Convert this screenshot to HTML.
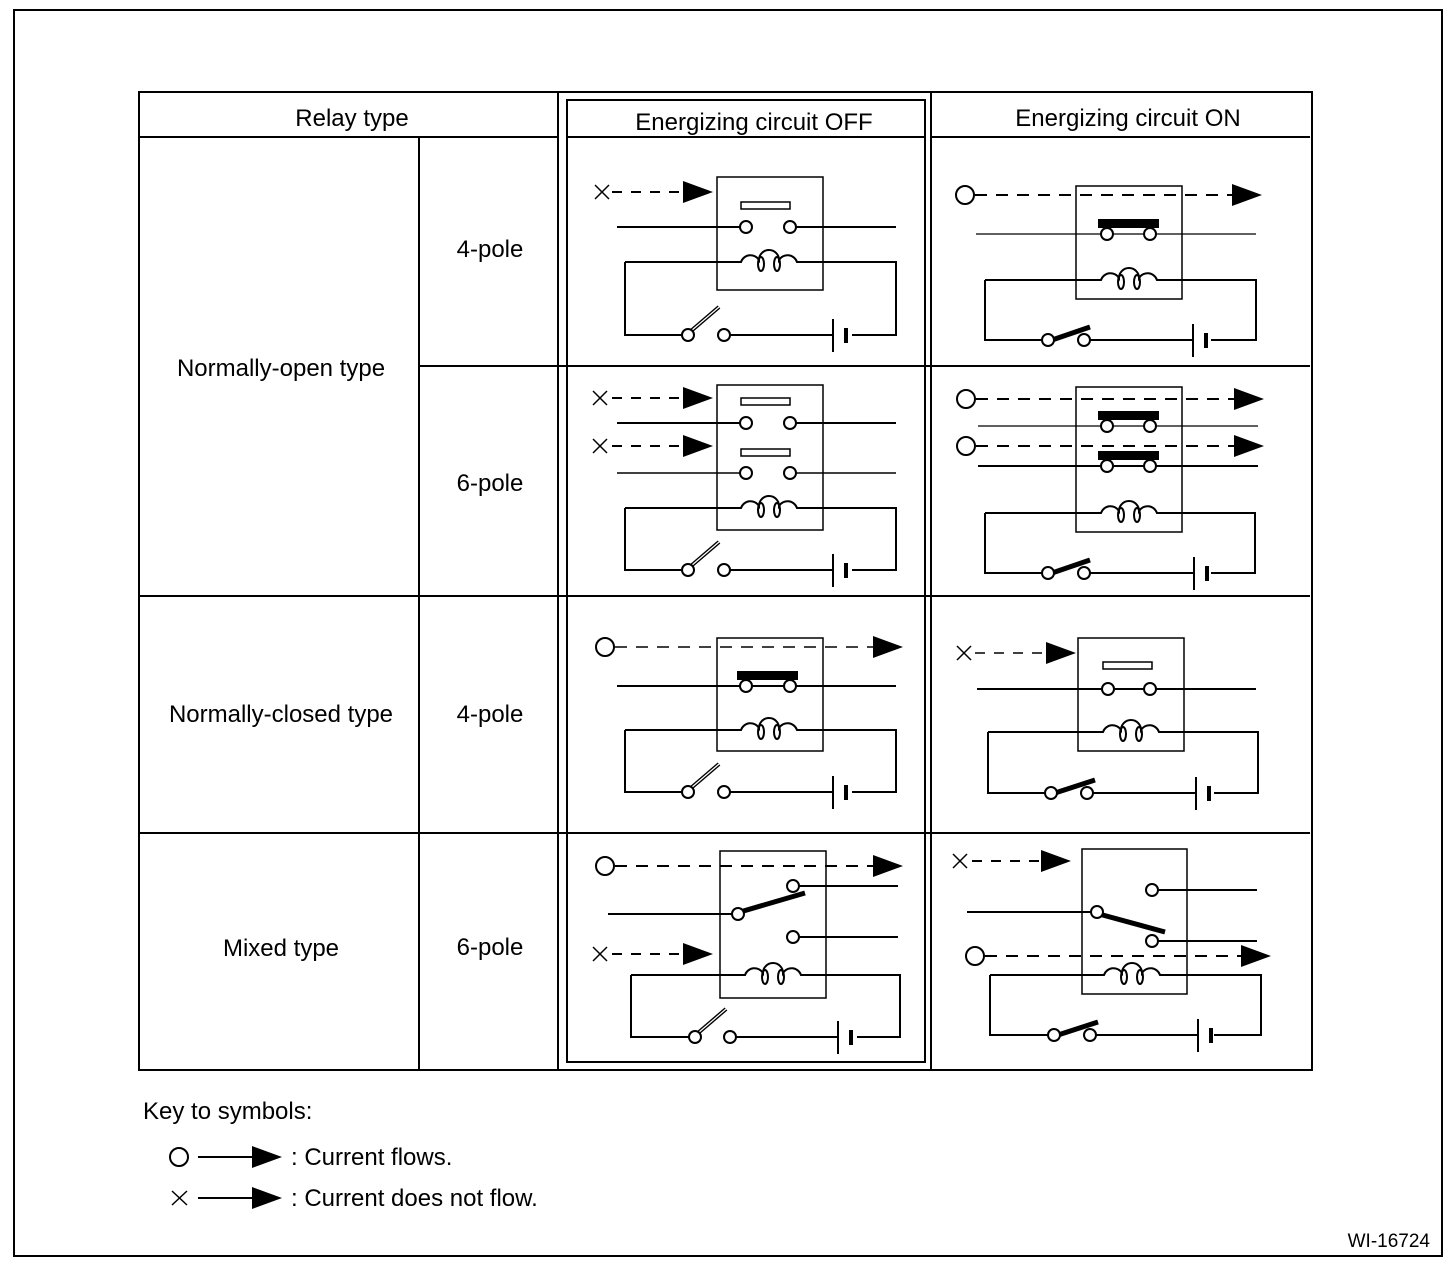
<!DOCTYPE html>
<html><head><style>body{margin:0;background:#fff}svg{display:block}text{font-family:"Liberation Sans",sans-serif;fill:#000}</style></head><body>
<svg width="1456" height="1264" viewBox="0 0 1456 1264" xmlns="http://www.w3.org/2000/svg">
<defs>
<symbol id="ah" overflow="visible"><polygon points="-30,-11 0,0 -30,11" fill="#000"/></symbol>
</defs>
<rect x="14" y="10" width="1428" height="1246" fill="none" stroke="#000" stroke-width="2"/>
<g stroke="#000" stroke-width="2" fill="none">
<rect x="139" y="92" width="1173" height="978"/>
<line x1="139" y1="137" x2="558" y2="137"/>
<line x1="930" y1="137" x2="1310" y2="137"/>
<line x1="558" y1="92" x2="558" y2="1070"/>
<line x1="931" y1="92" x2="931" y2="1070"/>
<line x1="419" y1="137" x2="419" y2="1070"/>
<rect x="567" y="100" width="358" height="962"/>
<line x1="567" y1="137" x2="925" y2="137"/>
<line x1="419" y1="366" x2="1310" y2="366"/>
<line x1="139" y1="596" x2="1310" y2="596"/>
<line x1="139" y1="833" x2="1310" y2="833"/>
</g>
<g font-size="24" text-anchor="middle">
<text x="352" y="126">Relay type</text>
<text x="754" y="130">Energizing circuit OFF</text>
<text x="1128" y="126">Energizing circuit ON</text>
<text x="281" y="376">Normally-open type</text>
<text x="490" y="257">4-pole</text>
<text x="490" y="491">6-pole</text>
<text x="281" y="722">Normally-closed type</text>
<text x="490" y="722">4-pole</text>
<text x="281" y="956">Mixed type</text>
<text x="490" y="955">6-pole</text>
</g>
<text x="143" y="1119" font-size="24">Key to symbols:</text>
<text x="291" y="1165" font-size="24">: Current flows.</text>
<text x="291" y="1206" font-size="24">: Current does not flow.</text>
<text x="1430" y="1247" font-size="19" text-anchor="end">WI-16724</text>

<g stroke="#000" stroke-width="2" fill="#fff">
<circle cx="179" cy="1157" r="9"/>
<line x1="198" y1="1157" x2="260" y2="1157"/>
<line x1="172" y1="1191" x2="187" y2="1205" stroke-width="1.5"/><line x1="187" y1="1191" x2="172" y2="1205" stroke-width="1.5"/>
<line x1="198" y1="1198" x2="260" y2="1198"/>
</g>
<use href="#ah" x="282" y="1157"/><use href="#ah" x="282" y="1198"/>

<g stroke="#000" stroke-width="2" fill="none">
<rect x="717" y="177" width="106" height="113" stroke-width="1.5"/>
<line x1="595" y1="185" x2="609" y2="199" stroke-width="1.5"/><line x1="609" y1="185" x2="595" y2="199" stroke-width="1.5"/>
<line x1="612" y1="192" x2="684" y2="192" stroke-dasharray="10 9"/>
<rect x="741" y="202" width="49" height="7" stroke-width="1.5"/>
<line x1="617" y1="227" x2="740" y2="227"/><line x1="796" y1="227" x2="896" y2="227"/>
<circle cx="746" cy="227" r="6" fill="#fff"/><circle cx="790" cy="227" r="6" fill="#fff"/>
<path d="M625 262 H741 A10 10 0 0 1 759 260 A10 10 0 0 1 779 260 A10 10 0 0 1 797 262 H896 V335 H852"/>
<ellipse cx="761" cy="264" rx="3" ry="7"/><ellipse cx="777" cy="264" rx="3" ry="7"/>
<path d="M625 262 V335 H682"/><line x1="730" y1="335" x2="833" y2="335"/>
<line x1="833" y1="319" x2="833" y2="352"/><line x1="846" y1="328" x2="846" y2="343" stroke-width="4"/>
<line x1="691" y1="331" x2="719" y2="307" stroke-width="4"/><line x1="691" y1="331" x2="719" y2="307" stroke="#fff" stroke-width="1.2"/>
<circle cx="688" cy="335" r="6" fill="#fff"/><circle cx="724" cy="335" r="6" fill="#fff"/>
</g>
<use href="#ah" x="713" y="192"/>

<g stroke="#000" stroke-width="2" fill="none">
<rect x="717" y="385" width="106" height="145" stroke-width="1.5"/>
<line x1="593" y1="391" x2="607" y2="405" stroke-width="1.5"/><line x1="607" y1="391" x2="593" y2="405" stroke-width="1.5"/>
<line x1="612" y1="398" x2="684" y2="398" stroke-dasharray="10 9"/>
<line x1="593" y1="439" x2="607" y2="453" stroke-width="1.5"/><line x1="607" y1="439" x2="593" y2="453" stroke-width="1.5"/>
<line x1="612" y1="446" x2="684" y2="446" stroke-dasharray="10 9"/>
<rect x="741" y="398" width="49" height="7" stroke-width="1.5"/>
<rect x="741" y="449" width="49" height="7" stroke-width="1.5"/>
<line x1="617" y1="423" x2="740" y2="423"/><line x1="796" y1="423" x2="896" y2="423"/>
<line x1="617" y1="473" x2="740" y2="473" stroke-width="1.5"/><line x1="796" y1="473" x2="896" y2="473" stroke-width="1.5"/>
<circle cx="746" cy="423" r="6" fill="#fff"/><circle cx="790" cy="423" r="6" fill="#fff"/>
<circle cx="746" cy="473" r="6" fill="#fff"/><circle cx="790" cy="473" r="6" fill="#fff"/>
<path d="M625 508 H741 A10 10 0 0 1 759 506 A10 10 0 0 1 779 506 A10 10 0 0 1 797 508 H896 V570 H852"/>
<ellipse cx="761" cy="510" rx="3" ry="7"/><ellipse cx="777" cy="510" rx="3" ry="7"/>
<path d="M625 508 V570 H682"/><line x1="730" y1="570" x2="833" y2="570"/>
<line x1="833" y1="554" x2="833" y2="587"/><line x1="846" y1="563" x2="846" y2="578" stroke-width="4"/>
<line x1="691" y1="566" x2="719" y2="542" stroke-width="4"/><line x1="691" y1="566" x2="719" y2="542" stroke="#fff" stroke-width="1.2"/>
<circle cx="688" cy="570" r="6" fill="#fff"/><circle cx="724" cy="570" r="6" fill="#fff"/>
</g>
<use href="#ah" x="713" y="398"/><use href="#ah" x="713" y="446"/>

<g stroke="#000" stroke-width="2" fill="none">
<rect x="1076" y="186" width="106" height="113" stroke-width="1.5"/>
<line x1="975" y1="195" x2="1232" y2="195" stroke-dasharray="12 9"/>
<circle cx="965" cy="195" r="9" fill="#fff"/>
<line x1="976" y1="234" x2="1256" y2="234" stroke-width="1.2"/>
<rect x="1099" y="220" width="59" height="7" fill="#000"/>
<circle cx="1107" cy="234" r="6" fill="#fff"/><circle cx="1150" cy="234" r="6" fill="#fff"/>
<path d="M985 280 H1101 A10 10 0 0 1 1119 278 A10 10 0 0 1 1139 278 A10 10 0 0 1 1157 280 H1256 V340 H1211"/>
<ellipse cx="1121" cy="282" rx="3" ry="7"/><ellipse cx="1137" cy="282" rx="3" ry="7"/>
<path d="M985 280 V340 H1042"/><line x1="1090" y1="340" x2="1193" y2="340"/>
<line x1="1193" y1="324" x2="1193" y2="357"/><line x1="1206" y1="333" x2="1206" y2="348" stroke-width="4"/>
<line x1="1052" y1="340" x2="1090" y2="327" stroke-width="5"/>
<circle cx="1048" cy="340" r="6" fill="#fff"/><circle cx="1084" cy="340" r="6" fill="#fff"/>
</g>
<use href="#ah" x="1262" y="195"/>

<g stroke="#000" stroke-width="2" fill="none">
<rect x="1076" y="387" width="106" height="145" stroke-width="1.5"/>
<line x1="976" y1="399" x2="1234" y2="399" stroke-dasharray="12 9"/>
<circle cx="966" cy="399" r="9" fill="#fff"/>
<line x1="976" y1="446" x2="1234" y2="446" stroke-dasharray="12 9"/>
<circle cx="966" cy="446" r="9" fill="#fff"/>
<line x1="978" y1="426" x2="1258" y2="426" stroke-width="1.2"/>
<line x1="978" y1="466" x2="1258" y2="466"/>
<rect x="1099" y="412" width="59" height="7" fill="#000"/>
<rect x="1099" y="452" width="59" height="7" fill="#000"/>
<circle cx="1107" cy="426" r="6" fill="#fff"/><circle cx="1150" cy="426" r="6" fill="#fff"/>
<circle cx="1107" cy="466" r="6" fill="#fff"/><circle cx="1150" cy="466" r="6" fill="#fff"/>
<path d="M985 513 H1101 A10 10 0 0 1 1119 511 A10 10 0 0 1 1139 511 A10 10 0 0 1 1157 513 H1255 V573 H1211"/>
<ellipse cx="1121" cy="515" rx="3" ry="7"/><ellipse cx="1137" cy="515" rx="3" ry="7"/>
<path d="M985 513 V573 H1042"/><line x1="1090" y1="573" x2="1194" y2="573"/>
<line x1="1194" y1="557" x2="1194" y2="590"/><line x1="1207" y1="566" x2="1207" y2="581" stroke-width="4"/>
<line x1="1052" y1="573" x2="1090" y2="560" stroke-width="5"/>
<circle cx="1048" cy="573" r="6" fill="#fff"/><circle cx="1084" cy="573" r="6" fill="#fff"/>
</g>
<use href="#ah" x="1264" y="399"/><use href="#ah" x="1264" y="446"/>

<g stroke="#000" stroke-width="2" fill="none">
<rect x="717" y="638" width="106" height="113" stroke-width="1.5"/>
<line x1="615" y1="647" x2="873" y2="647" stroke-dasharray="12 9" stroke-width="1.5"/>
<circle cx="605" cy="647" r="9" fill="#fff"/>
<line x1="617" y1="686" x2="896" y2="686"/>
<rect x="738" y="672" width="59" height="7" fill="#000"/>
<circle cx="746" cy="686" r="6" fill="#fff"/><circle cx="790" cy="686" r="6" fill="#fff"/>
<path d="M625 730 H741 A10 10 0 0 1 759 728 A10 10 0 0 1 779 728 A10 10 0 0 1 797 730 H896 V792 H852"/>
<ellipse cx="761" cy="732" rx="3" ry="7"/><ellipse cx="777" cy="732" rx="3" ry="7"/>
<path d="M625 730 V792 H682"/><line x1="730" y1="792" x2="833" y2="792"/>
<line x1="833" y1="776" x2="833" y2="809"/><line x1="846" y1="785" x2="846" y2="800" stroke-width="4"/>
<line x1="691" y1="788" x2="719" y2="764" stroke-width="4"/><line x1="691" y1="788" x2="719" y2="764" stroke="#fff" stroke-width="1.2"/>
<circle cx="688" cy="792" r="6" fill="#fff"/><circle cx="724" cy="792" r="6" fill="#fff"/>
</g>
<use href="#ah" x="903" y="647"/>

<g stroke="#000" stroke-width="2" fill="none">
<rect x="1078" y="638" width="106" height="113" stroke-width="1.5"/>
<line x1="957" y1="646" x2="971" y2="660" stroke-width="1.5"/><line x1="971" y1="646" x2="957" y2="660" stroke-width="1.5"/>
<line x1="975" y1="653" x2="1046" y2="653" stroke-dasharray="10 9" stroke-width="1.5"/>
<rect x="1103" y="662" width="49" height="7" stroke-width="1.5"/>
<line x1="977" y1="689" x2="1256" y2="689"/>
<circle cx="1108" cy="689" r="6" fill="#fff"/><circle cx="1150" cy="689" r="6" fill="#fff"/>
<path d="M988 732 H1103 A10 10 0 0 1 1121 730 A10 10 0 0 1 1141 730 A10 10 0 0 1 1159 732 H1258 V793 H1214"/>
<ellipse cx="1123" cy="734" rx="3" ry="7"/><ellipse cx="1139" cy="734" rx="3" ry="7"/>
<path d="M988 732 V793 H1045"/><line x1="1093" y1="793" x2="1196" y2="793"/>
<line x1="1196" y1="777" x2="1196" y2="810"/><line x1="1209" y1="786" x2="1209" y2="801" stroke-width="4"/>
<line x1="1055" y1="793" x2="1095" y2="780" stroke-width="5"/>
<circle cx="1051" cy="793" r="6" fill="#fff"/><circle cx="1087" cy="793" r="6" fill="#fff"/>
</g>
<use href="#ah" x="1076" y="653"/>

<g stroke="#000" stroke-width="2" fill="none">
<rect x="720" y="851" width="106" height="147" stroke-width="1.5"/>
<line x1="615" y1="866" x2="873" y2="866" stroke-dasharray="12 9"/>
<circle cx="605" cy="866" r="9" fill="#fff"/>
<line x1="593" y1="947" x2="607" y2="961" stroke-width="1.5"/><line x1="607" y1="947" x2="593" y2="961" stroke-width="1.5"/>
<line x1="612" y1="954" x2="684" y2="954" stroke-dasharray="10 9"/>
<line x1="793" y1="886" x2="898" y2="886"/>
<line x1="608" y1="914" x2="738" y2="914"/>
<line x1="793" y1="937" x2="898" y2="937"/>
<line x1="740" y1="912" x2="805" y2="893" stroke-width="5"/>
<circle cx="793" cy="886" r="6" fill="#fff"/><circle cx="738" cy="914" r="6" fill="#fff"/><circle cx="793" cy="937" r="6" fill="#fff"/>
<path d="M631 975 H745 A10 10 0 0 1 763 973 A10 10 0 0 1 783 973 A10 10 0 0 1 801 975 H900 V1037 H857"/>
<ellipse cx="765" cy="977" rx="3" ry="7"/><ellipse cx="781" cy="977" rx="3" ry="7"/>
<path d="M631 975 V1037 H689"/><line x1="736" y1="1037" x2="838" y2="1037"/>
<line x1="838" y1="1021" x2="838" y2="1054"/><line x1="851" y1="1030" x2="851" y2="1045" stroke-width="4"/>
<line x1="698" y1="1033" x2="726" y2="1009" stroke-width="4"/><line x1="698" y1="1033" x2="726" y2="1009" stroke="#fff" stroke-width="1.2"/>
<circle cx="695" cy="1037" r="6" fill="#fff"/><circle cx="730" cy="1037" r="6" fill="#fff"/>
</g>
<use href="#ah" x="903" y="866"/><use href="#ah" x="713" y="954"/>

<g stroke="#000" stroke-width="2" fill="none">
<rect x="1082" y="849" width="105" height="145" stroke-width="1.5"/>
<line x1="953" y1="854" x2="967" y2="868" stroke-width="1.5"/><line x1="967" y1="854" x2="953" y2="868" stroke-width="1.5"/>
<line x1="972" y1="861" x2="1041" y2="861" stroke-dasharray="10 9"/>
<line x1="1152" y1="890" x2="1257" y2="890"/>
<line x1="967" y1="912" x2="1097" y2="912"/>
<line x1="1152" y1="941" x2="1257" y2="941"/>
<line x1="1099" y1="914" x2="1165" y2="932" stroke-width="5"/>
<circle cx="1152" cy="890" r="6" fill="#fff"/><circle cx="1097" cy="912" r="6" fill="#fff"/><circle cx="1152" cy="941" r="6" fill="#fff"/>
<line x1="985" y1="956" x2="1241" y2="956" stroke-dasharray="12 9"/>
<circle cx="975" cy="956" r="9" fill="#fff"/>
<path d="M990 975 H1104 A10 10 0 0 1 1122 973 A10 10 0 0 1 1142 973 A10 10 0 0 1 1160 975 H1261 V1035 H1214"/>
<ellipse cx="1124" cy="977" rx="3" ry="7"/><ellipse cx="1140" cy="977" rx="3" ry="7"/>
<path d="M990 975 V1035 H1048"/><line x1="1096" y1="1035" x2="1198" y2="1035"/>
<line x1="1198" y1="1019" x2="1198" y2="1052"/><line x1="1211" y1="1028" x2="1211" y2="1043" stroke-width="4"/>
<line x1="1058" y1="1035" x2="1098" y2="1022" stroke-width="5"/>
<circle cx="1054" cy="1035" r="6" fill="#fff"/><circle cx="1090" cy="1035" r="6" fill="#fff"/>
</g>
<use href="#ah" x="1071" y="861"/><use href="#ah" x="1271" y="956"/>
</svg>
</body></html>
